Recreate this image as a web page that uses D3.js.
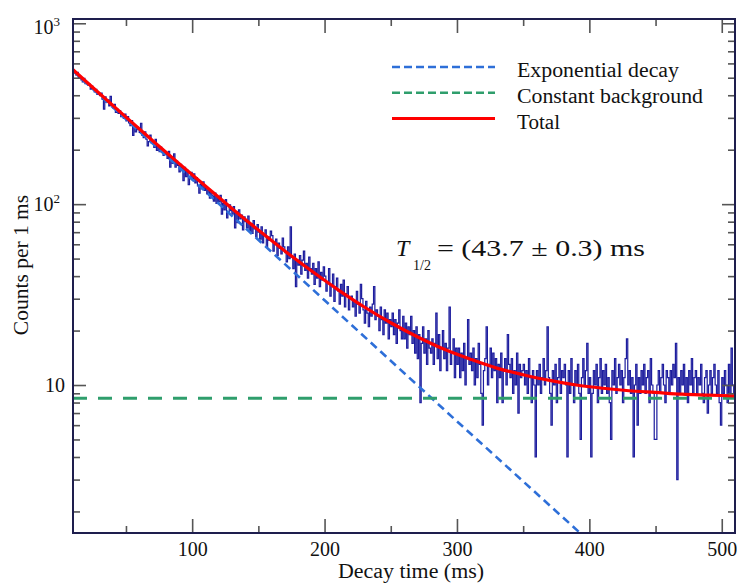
<!DOCTYPE html>
<html>
<head>
<meta charset="utf-8">
<script src="https://cdn.jsdelivr.net/npm/d3@7"></script>
<style>
  body { margin: 0; background: #fff; }
  svg, svg text { font-family: "Liberation Serif", "Times New Roman", serif; fill: #111; }
</style>
</head>
<body>
<svg id="chart" width="737" height="584"></svg>
<script>
// --- Data
// histogram: counts per 1 ms bin, first bin starts at 10 ms
const binStart = 10;
const counts = [
  551, 538, 519, 536, 498, 509, 487, 474, 496, 463,
  470, 455, 461, 432, 449, 440, 418, 431, 405, 412,
  398, 411, 380, 335, 392, 366, 377, 349, 395, 352,
  341, 356, 322, 334, 318, 329, 305, 312, 298, 315,
  289, 305, 281, 272, 290, 240, 274, 251, 268, 258,
  249, 280, 240, 233, 251, 229, 210, 222, 241, 218,
  219, 206, 228, 198, 210, 195, 207, 201, 186, 192,
  188, 179, 196, 160, 181, 168, 190, 160, 173, 164,
  151, 166, 158, 135, 160, 142, 154, 128, 139, 150,
  138, 147, 131, 140, 126, 115, 129, 122, 133, 119,
  124, 114, 120, 108, 117, 111, 104, 115, 101, 109,
  103, 112, 88, 101, 93, 106, 84, 89, 99, 92,
  88, 97, 74, 91, 79, 93, 83, 87, 72, 85,
  80, 74, 86, 71, 78, 69, 81, 73, 66, 77,
  70, 64, 75, 61, 68, 72, 58, 66, 63, 71,
  67, 55, 60, 64, 52, 61, 57, 53, 65, 58,
  54, 48, 58, 50, 75, 51, 44, 53, 35, 49,
  46, 52, 41, 49, 55, 43, 47, 39, 51, 44,
  41, 47, 36, 44, 39, 48, 35, 42, 38, 45,
  40, 33, 37, 44, 31, 36, 41, 29, 35, 39,
  33, 28, 36, 31, 38, 27, 32, 35, 26, 30,
  31, 27, 29, 24, 33, 28, 25, 36, 30, 26,
  22, 29, 25, 21, 27, 24, 28, 35, 23, 26,
  24, 20, 27, 23, 19, 26, 22, 25, 18, 23,
  21, 25, 19, 23, 17, 22, 26, 20, 18, 24,
  18, 22, 16, 21, 19, 24, 17, 20, 15, 21,
  14, 19, 8, 17, 21, 15, 18, 13, 20, 16,
  15, 18, 13, 17, 25, 14, 19, 12, 16, 20,
  14, 17, 12, 16, 27, 13, 15, 18, 11, 16,
  13, 16, 11, 15, 12, 17, 10, 14, 23, 13,
  15, 12, 16, 10, 14, 11, 17, 13, 9, 6,
  12, 14, 21, 10, 13, 16, 11, 15, 12, 14,
  8, 13, 11, 15, 8, 12, 14, 10, 19, 13,
  11, 14, 9, 12, 10, 15, 7, 13, 11, 12,
  13, 10, 12, 9, 14, 11, 8, 12, 10, 4,
  12, 10, 13, 9, 11, 14, 10, 12, 21, 11,
  9, 6, 12, 10, 13, 8, 11, 14, 9, 12,
  11, 13, 10, 4, 12, 9, 14, 10, 8, 12,
  10, 13, 9, 5, 11, 14, 10, 12, 17, 9,
  11, 4, 9, 12, 10, 13, 8, 11, 14, 9,
  12, 10, 13, 9, 11, 8, 5, 12, 10, 14,
  9, 11, 13, 10, 12, 8, 11, 14, 18, 10,
  12, 9, 11, 4, 10, 13, 6, 11, 9, 12,
  10, 13, 9, 11, 12, 8, 14, 10, 9, 5,
  5, 10, 12, 9, 11, 13, 10, 8, 12, 11,
  9, 12, 10, 13, 11, 17, 3, 11, 9, 12,
  10, 13, 9, 11, 8, 12, 10, 14, 9, 11,
  12, 9, 11, 10, 13, 9, 8, 11, 12, 7,
  10, 12, 9, 11, 13, 10, 9, 12, 8, 6,
  11, 9, 12, 10, 8, 13, 9, 16, 10, 9
];

// fit components
const expTimes  = [10, 100, 200, 300, 393];
const expValues = [545, 137, 29.4, 6.3, 1.52];

const bgTimes  = [10, 510];
const bgValues = [8.45, 8.45];

const totalTimes  = [10, 30, 50, 70, 90, 110, 130, 150, 170, 190, 210, 230, 250,
                     270, 290, 310, 330, 350, 370, 390, 410, 430, 450, 470, 490, 510];
const totalValues = [553, 409, 303, 225, 168, 126, 94.7, 71.9, 55.1, 42.8, 33.7, 27.0, 22.1,
                     18.5, 15.8, 13.9, 12.4, 11.4, 10.6, 10.0, 9.6, 9.3, 9.1, 8.9, 8.8, 8.7];

// axes
const xMajor = [100, 200, 300, 400, 500];
const xMinor = [50, 150, 250, 350, 450];
const yMajor = [10, 100, 1000];
const yMinor = [2, 3, 4, 5, 6, 7, 8, 9, 20, 30, 40, 50, 60, 70, 80, 90, 200, 300, 400, 500, 600, 700, 800, 900];
const yLabels = [
  { v: 1000, base: '10', sup: '3' },
  { v: 100, base: '10', sup: '2' },
  { v: 10, base: '10', sup: '' }
];

const legendLabels = ['Exponential decay', 'Constant background', 'Total'];

// --- Layout
const FONT = '"Liberation Serif", "Times New Roman", serif';
const svg = d3.select('#chart').attr('font-family', FONT);
const m = { l: 73, r: 2, t: 19, b: 51 };
const W = 737, H = 584;
const x = d3.scaleLinear().domain([10, 510]).range([m.l, W - m.r]);
const y = d3.scaleLog().domain([1.52, 1056]).range([H - m.b, m.t]);

const colors = { hist: '#1d1d9e', exp: '#2e6fd8', bg: '#2f9e6c', total: '#ff0000' };

svg.append('defs').append('clipPath').attr('id', 'plotclip')
  .append('rect').attr('x', m.l).attr('y', m.t)
  .attr('width', W - m.r - m.l).attr('height', H - m.b - m.t);

const plot = svg.append('g').attr('clip-path', 'url(#plotclip)');

// histogram (step line)
const bins = counts.map((c, i) => ({ t: binStart + i, c }));
bins.push({ t: binStart + counts.length, c: counts[counts.length - 1] });
plot.append('path')
  .datum(bins)
  .attr('fill', 'none')
  .attr('stroke', colors.hist)
  .attr('stroke-width', 1.2)
  .attr('d', d3.line().x(d => x(d.t)).y(d => y(d.c)).curve(d3.curveStepAfter));

const pairLine = d3.line().x(d => x(d[0])).y(d => y(d[1]));

plot.append('path')
  .datum(d3.zip(expTimes, expValues))
  .attr('fill', 'none').attr('stroke', colors.exp)
  .attr('stroke-width', 2.6).attr('stroke-dasharray', '8,5')
  .attr('d', pairLine);

plot.append('path')
  .datum(d3.zip(bgTimes, bgValues))
  .attr('fill', 'none').attr('stroke', colors.bg)
  .attr('stroke-width', 3.2).attr('stroke-dasharray', '14,11')
  .attr('d', pairLine);

plot.append('path')
  .datum(d3.zip(totalTimes, totalValues))
  .attr('fill', 'none').attr('stroke', colors.total)
  .attr('stroke-width', 3.2)
  .attr('d', pairLine.curve(d3.curveMonotoneX));

// --- Axes (ticks point inward)
const tickStyle = g => {
  g.attr('font-family', FONT);
  g.select('.domain').remove();
  g.selectAll('.tick line').attr('stroke', '#555').attr('stroke-width', 1.6);
  g.selectAll('.tick text').attr('font-size', 20).attr('fill', '#111');
};

svg.append('g').attr('transform', `translate(0,${H - m.b})`)
  .call(d3.axisBottom(x).tickValues(xMajor).tickSizeInner(-14).tickSizeOuter(0).tickPadding(9).tickFormat(d3.format('d')))
  .call(tickStyle);
svg.append('g').attr('transform', `translate(0,${H - m.b})`)
  .call(d3.axisBottom(x).tickValues(xMinor).tickSizeInner(-7).tickSizeOuter(0).tickFormat(''))
  .call(tickStyle);
svg.append('g').attr('transform', `translate(0,${m.t})`)
  .call(d3.axisTop(x).tickValues(xMajor).tickSizeInner(-14).tickSizeOuter(0).tickFormat(''))
  .call(tickStyle);
svg.append('g').attr('transform', `translate(0,${m.t})`)
  .call(d3.axisTop(x).tickValues(xMinor).tickSizeInner(-7).tickSizeOuter(0).tickFormat(''))
  .call(tickStyle);

svg.append('g').attr('transform', `translate(${m.l},0)`)
  .call(d3.axisLeft(y).tickValues(yMajor).tickSizeInner(-13).tickSizeOuter(0).tickFormat(''))
  .call(tickStyle);
svg.append('g').attr('transform', `translate(${m.l},0)`)
  .call(d3.axisLeft(y).tickValues(yMinor).tickSizeInner(-7).tickSizeOuter(0).tickFormat(''))
  .call(tickStyle);
svg.append('g').attr('transform', `translate(${W - m.r},0)`)
  .call(d3.axisRight(y).tickValues(yMajor).tickSizeInner(-13).tickSizeOuter(0).tickFormat(''))
  .call(tickStyle);
svg.append('g').attr('transform', `translate(${W - m.r},0)`)
  .call(d3.axisRight(y).tickValues(yMinor).tickSizeInner(-7).tickSizeOuter(0).tickFormat(''))
  .call(tickStyle);

// y tick labels with superscripts
yLabels.forEach(d => {
  const t = svg.append('text')
    .attr('x', d.sup ? 60 : 65)
    .attr('y', Math.max(y(d.v), 27) + 7)
    .attr('text-anchor', 'end')
    .attr('font-size', 20);
  t.append('tspan').text(d.base);
  if (d.sup) t.append('tspan').attr('dy', -8).attr('font-size', 13).text(d.sup);
});

// frame
svg.append('rect')
  .attr('x', m.l).attr('y', m.t)
  .attr('width', W - m.r - m.l).attr('height', H - m.b - m.t)
  .attr('fill', 'none').attr('stroke', '#1e1e4e').attr('stroke-width', 2);

// axis titles
svg.append('text')
  .attr('x', 411).attr('y', 578)
  .attr('text-anchor', 'middle').attr('font-size', 20)
  .attr('textLength', 146).attr('lengthAdjust', 'spacingAndGlyphs')
  .text('Decay time (ms)');
svg.append('text')
  .attr('transform', 'translate(28,265) rotate(-90)')
  .attr('text-anchor', 'middle').attr('font-size', 21.5)
  .text('Counts per 1 ms');

// --- Legend
const legendStyles = [
  { stroke: colors.exp, dash: '8,4', width: 2.6, len: 162 },
  { stroke: colors.bg, dash: '8,4', width: 2.6, len: 186 },
  { stroke: colors.total, dash: null, width: 3, len: 43 }
];
const lg = svg.append('g').attr('transform', 'translate(392,67)');
legendLabels.forEach((label, i) => {
  const row = lg.append('g').attr('transform', `translate(0,${i * 25.8})`);
  row.append('line')
    .attr('x1', 0).attr('x2', 103)
    .attr('stroke', legendStyles[i].stroke)
    .attr('stroke-width', legendStyles[i].width)
    .attr('stroke-dasharray', legendStyles[i].dash);
  row.append('text')
    .attr('x', 125).attr('y', 10)
    .attr('font-size', 20.5)
    .attr('textLength', legendStyles[i].len).attr('lengthAdjust', 'spacingAndGlyphs')
    .text(label);
});

// --- Half-life annotation
const ann = svg.append('text').attr('y', 256).attr('font-size', 24);
ann.append('tspan').attr('x', 396).attr('font-style', 'italic').text('T');
ann.append('tspan').attr('x', 413).attr('dy', 14).attr('font-size', 14).text('1/2');
ann.append('tspan').attr('x', 437).attr('dy', -14)
  .attr('textLength', 208).attr('lengthAdjust', 'spacingAndGlyphs')
  .text('= (43.7 ± 0.3) ms');
</script>
</body>
</html>
